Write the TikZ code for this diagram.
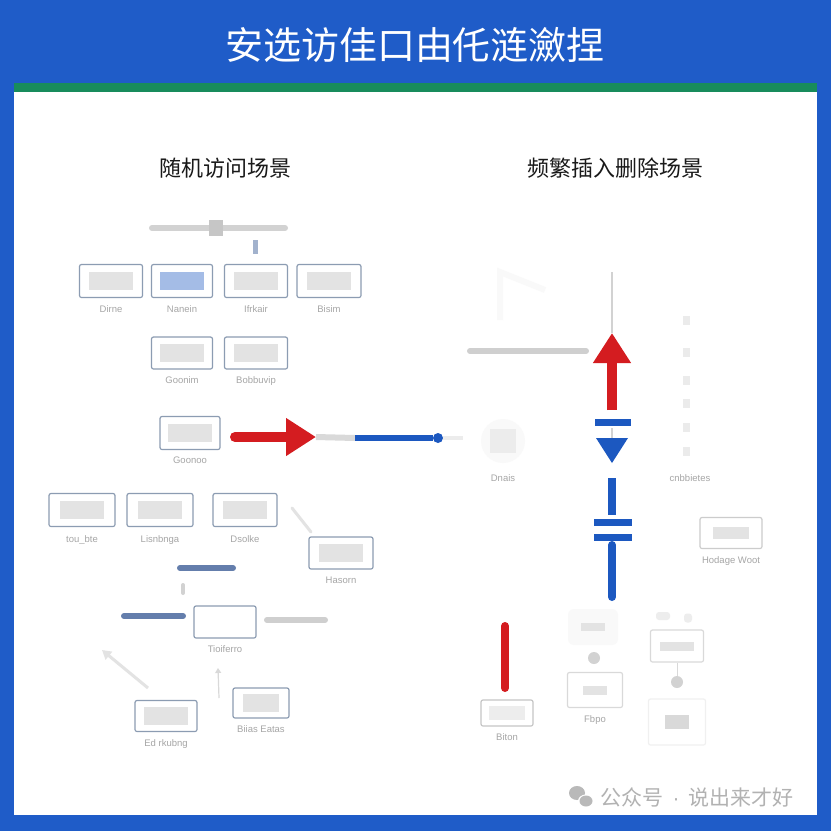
\documentclass[tikz,border=0pt]{standalone}
\usepackage{fontspec}
\setmainfont{Liberation Sans}
\newfontfamily\cjk{Noto Sans CJK SC}
\usetikzlibrary{arrows.meta, positioning, calc}
\definecolor{colFrame}{RGB}{31,92,200}
\definecolor{colGreen}{RGB}{24,140,92}
\definecolor{colRed}  {RGB}{212,28,32}
\definecolor{colBlue} {RGB}{28,88,192}
\definecolor{colSlate}{RGB}{100,126,172}
\definecolor{colEdge} {RGB}{140,156,178}
\tikzset{
  box/.style   = {draw=colEdge, line width=1.2pt, rounded corners=2pt, fill=white,
                  minimum width=63pt, minimum height=33pt, inner sep=0pt},
  fbox/.style  = {box, draw=gray!30},
  blur/.style  = {fill=gray!22, minimum width=44pt, minimum height=18pt, inner sep=0pt},
  lbl/.style   = {font=\fontsize{9.5}{10}\selectfont, text=gray!70, inner sep=1pt},
  sub/.style   = {font=\cjk\fontsize{22}{24}\selectfont, text=black!90},
  bar/.style   = {line width=6pt, line cap=round},
  redarr/.style= {colRed, line width=10pt, -{Triangle[length=30pt, width=36pt]}},
  dot/.style   = {circle, fill=gray!35, minimum size=12pt, inner sep=0pt},
  icon/.style  = {fill=gray!16, minimum width=7pt, minimum height=9pt, inner sep=0pt},
}

\begin{document}
\begin{tikzpicture}[x=1pt, y=-1pt]

%% ── frame ───────────────────────────────────────────────────────────────────
\fill[colFrame] (0,0) rectangle (831,831);
\fill[colGreen] (14,83) rectangle (817,92);
\fill[white]    (14,92) rectangle (817,815);
\node[font=\cjk\fontsize{38}{40}\selectfont, text=white] (title) at (415,45)
  {安选访佳口由仛涟瀲捏};

%% ── headings ────────────────────────────────────────────────────────────────
\node[sub] (hleft)  at (225,168) {随机访问场景};
\node[sub] (hright) at (615,168) {频繁插入删除场景};

%% ── left: slider ────────────────────────────────────────────────────────────
\coordinate (s1) at (152,228);
\coordinate (s2) at (285,228);
\draw[bar, gray!35] (s1) -- (s2);
\node[fill=gray!45, minimum width=14pt, minimum height=16pt, inner sep=0pt] (knob) at (216,228) {};
\node[fill=colSlate!60, minimum width=5pt, minimum height=14pt, inner sep=0pt] (pin) at (255,247) {};

%% ── left: boxes ─────────────────────────────────────────────────────────────
\node[box] (dirne) at (111,281) {};
\node[box, minimum width=61pt] (nanein) at (182,281) {};
\node[box] (ifrk)  at (256,281) {};
\node[box, minimum width=64pt] (bisim) at (329,281) {};
\node[box, minimum width=61pt, minimum height=32pt] (goon) at (182,353) {};
\node[box, minimum height=32pt] (bobb) at (256,353) {};
\node[box, minimum width=60pt] (goo2) at (190,433) {};
\node[box, minimum width=66pt] (toub) at (82,510) {};
\node[box, minimum width=66pt] (lisn) at (160,510) {};
\node[box, minimum width=64pt] (dsol) at (245,510) {};
\node[box, minimum width=64pt, minimum height=32pt] (haso) at (341,553) {};
\node[box, minimum width=62pt, minimum height=32pt] (tioi) at (225,622) {};
\node[box, minimum width=62pt, minimum height=31pt] (edrk) at (166,716) {};
\node[box, minimum width=56pt, minimum height=30pt] (biia) at (261,703) {};

\foreach \b in {dirne,ifrk,bisim,goon,bobb,goo2,toub,lisn,dsol,haso,edrk}
  \node[blur] at (\b) {};
\node[blur, fill=colBlue!40] at (nanein) {};
\node[blur, minimum width=36pt] at (biia) {};

\node[lbl, below=6pt of dirne]  {Dirne};
\node[lbl, below=6pt of nanein] {Nanein};
\node[lbl, below=6pt of ifrk]   {Ifrkair};
\node[lbl, below=6pt of bisim]  {Bisim};
\node[lbl, below=6pt of goon]   {Goonim};
\node[lbl, below=6pt of bobb]   {Bobbuvip};
\node[lbl, below=6pt of goo2]   {Goonoo};
\node[lbl, below=7pt of toub]   {tou\_bte};
\node[lbl, below=7pt of lisn]   {Lisnbnga};
\node[lbl, below=7pt of dsol]   {Dsolke};
\node[lbl, below=6pt of haso]   {Hasorn};
\node[lbl, below=6pt of tioi]   {Tioiferro};
\node[lbl, below=6pt of edrk]   {Ed rkubng};
\node[lbl, below=6pt of biia]   {Biias Eatas};

%% ── left: access arrow ──────────────────────────────────────────────────────
\coordinate (ra) at (235,437);
\coordinate (rb) at (316,437);
\coordinate (bl) at (355,438);
\coordinate (pe) at (463,438);
\node[circle, fill=colBlue, minimum size=10pt, inner sep=0pt] (bdot) at (438,438) {};
\draw[redarr, line cap=round] (ra) -- (rb);
\draw[bar, gray!30, line cap=butt] (rb) -- (bl);
\draw[bar, colBlue, line cap=butt] (bl) -- (bdot);
\draw[line width=4pt, gray!15] (bdot) -- (pe);

%% ── left: small bars and hints ──────────────────────────────────────────────
\coordinate (sb1) at (180,568);  \coordinate (sb2) at (233,568);
\coordinate (sb3) at (124,616);  \coordinate (sb4) at (183,616);
\coordinate (sb5) at (267,620);  \coordinate (sb6) at (325,620);
\draw[bar, colSlate] (sb1) -- (sb2);
\draw[line width=4pt, gray!35, line cap=round] (183,585) -- (183,593);
\draw[bar, colSlate] (sb3) -- (sb4);
\draw[bar, gray!38]  (sb5) -- (sb6);
\draw[line width=3pt, gray!22, line cap=round] (292,508) -- (311,532);
\draw[line width=3pt, gray!22, -{Triangle[length=9pt, width=10pt]}] (148,688) -- (102,650);
\draw[line width=1.2pt, gray!30, -{Triangle[length=5pt, width=6pt]}] (219,698) -- (218,668);

%% ── right: faint panel sketch ───────────────────────────────────────────────
\draw[line width=6pt, gray!5] (500,320) -- (500,272) -- (545,290);
\coordinate (h1) at (470,351);
\coordinate (h2) at (586,351);
\draw[bar, gray!38] (h1) -- (h2);

%% ── right: insert / delete column ───────────────────────────────────────────
\coordinate (v0) at (612,272);
\coordinate (v1) at (612,333);
\coordinate (v2) at (612,410);
\draw[line width=2pt, gray!35] (v0) -- (v1);
\draw[redarr] (v2) -- (v1);
\draw[line width=7pt, colBlue] (595,422) -- (631,422);
\draw[line width=2pt, gray!35] (612,428) -- (612,440);
\fill[colBlue] (596,438) -- (628,438) -- (612,463) -- cycle;
\draw[line width=8pt, colBlue] (612,478) -- (612,515);
\draw[line width=7pt, colBlue] (594,522) -- (632,522);
\draw[line width=7pt, colBlue] (594,537) -- (632,537);
\draw[line width=8pt, colBlue, line cap=round] (612,545) -- (612,597);
\draw[line width=8pt, colRed,  line cap=round] (505,626) -- (505,688);

%% ── right: faint items ──────────────────────────────────────────────────────
\node[circle, fill=gray!5, minimum size=44pt] (dglow) at (503,441) {};
\node[fill=gray!15, minimum width=26pt, minimum height=24pt, inner sep=0pt] (dnais) at (503,441) {};
\node[lbl] at (503,478) {Dnais};
\foreach \yy in {320,352,380,403,427,451}
  \node[icon] at (686,\yy) {};
\node[lbl] at (690,478) {cnbbietes};

\node[box, minimum width=62pt, minimum height=31pt, draw=gray!40] (hoda) at (731,533) {};
\node[blur, minimum width=36pt, minimum height=12pt] at (hoda) {};
\node[lbl, below=6pt of hoda] {Hodage Woot};

\node[box, minimum width=52pt, minimum height=26pt, draw=gray!45] (bito) at (507,713) {};
\node[blur, minimum width=36pt, minimum height=14pt, fill=gray!14] at (bito) {};
\node[lbl, below=6pt of bito] {Biton};

\node[fill=gray!5, rounded corners=6pt, minimum width=50pt, minimum height=36pt] (glow) at (593,627) {};
\node[blur, minimum width=24pt, minimum height=8pt] at (glow) {};
\node[dot] (d1) at (594,658) {};
\node[fbox, minimum width=55pt, minimum height=35pt] (fbpo) at (595,690) {};
\node[blur, minimum width=24pt, minimum height=9pt] at (fbpo) {};
\node[lbl, below=6pt of fbpo] {Fbpo};

\node[fill=gray!14, minimum width=14pt, minimum height=8pt, rounded corners=3pt] at (663,616) {};
\node[fill=gray!14, minimum width=8pt, minimum height=9pt, rounded corners=3pt] at (688,618) {};
\node[fbox, minimum width=53pt, minimum height=32pt] (rbox) at (677,646) {};
\node[blur, minimum width=34pt, minimum height=9pt] at (rbox) {};
\node[dot] (d2) at (677,682) {};
\draw[line width=1pt, gray!30] (rbox) -- (d2);
\node[fbox, draw=gray!12, minimum width=57pt, minimum height=46pt] (rlow) at (677,722) {};
\node[blur, fill=gray!30, minimum width=24pt, minimum height=14pt] at (rlow) {};

%% ── watermark ───────────────────────────────────────────────────────────────
\fill[gray!55] (577,793) ellipse (8pt and 7pt);
\fill[white] (586,801) ellipse (8pt and 6.5pt);
\fill[gray!55] (586,801) ellipse (6.5pt and 5.5pt);
\node[font=\cjk\fontsize{21}{24}\selectfont, text=gray!60, anchor=west] (wm) at (597,797)
  {公众号\hspace{9pt}{\rmfamily\textperiodcentered}\hspace{9pt}说出来才好};

\end{tikzpicture}
\end{document}
